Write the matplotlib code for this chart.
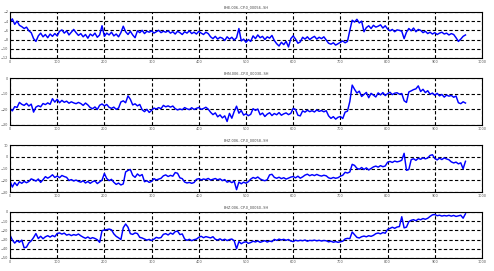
import numpy as np
import matplotlib
matplotlib.use('Agg')
import matplotlib.pyplot as plt

# muestras cada 5 unidades, 0..965
x = np.arange(0, 970, 5)

titles = ["BHE.006..CP.0_00056..SH", "BHN.006..CP.0_00030..SH",
          "BHZ.006..CP.0_00058..SH", "BHZ.006..CP.0_00060..SH"]

p1 = [-4.3, -3.5, -4.7, -4.0, -4.9, -5.2, -5.6, -5.3, -6.1, -6.5,
      -7.8, -8.4, -7.2, -6.6, -7.4, -6.9, -7.6, -6.8, -7.3, -6.7,
      -7.2, -6.2, -5.9, -6.6, -6.1, -7.0, -6.4, -5.8, -6.5, -7.1,
      -6.7, -7.4, -6.9, -7.7, -6.8, -7.2, -6.6, -7.5, -7.0, -5.0,
      -7.3, -6.6, -7.0, -6.4, -7.2, -6.8, -7.4, -6.5, -5.1, -6.3,
      -6.9, -6.2, -7.0, -7.6, -6.1, -6.5, -6.0, -6.7, -6.2, -6.4,
      -6.1, -6.6, -6.3, -6.0, -6.5, -6.2, -6.4, -6.1, -6.6, -6.3,
      -6.8, -6.2, -6.5, -6.9, -6.3, -6.6, -6.1, -6.7, -6.4, -6.8,
      -6.2, -6.6, -6.9, -6.4, -6.7, -7.4, -7.8, -7.3, -7.9, -7.5,
      -7.7, -8.2, -7.4, -7.9, -7.5, -8.1, -7.6, -5.6, -8.3, -7.9,
      -8.6, -8.0, -8.4, -7.2, -7.8, -7.0, -7.6, -7.3, -8.0, -7.4,
      -7.7, -7.1, -8.2, -8.9, -9.4, -8.6, -9.1, -8.4, -9.6, -7.8,
      -7.2, -7.9, -8.8, -8.5, -7.5, -7.9, -7.4, -8.0, -7.6, -7.3,
      -7.9, -7.5, -7.8, -7.4, -8.1, -8.8, -9.0, -8.7, -9.2, -8.9,
      -8.6, -8.3, -8.7, -8.4, -6.0, -3.8, -4.2, -3.6, -4.4, -4.0,
      -6.3, -5.4, -5.0, -5.6, -4.9, -5.3, -5.1, -4.8, -5.5, -5.0,
      -5.7, -6.1, -5.8, -6.3, -5.9, -6.0, -6.2, -7.8, -6.4, -5.6,
      -6.1, -5.5, -6.3, -5.8, -6.0, -6.5, -6.2, -6.7, -6.4, -6.8,
      -6.5, -6.9, -6.6, -6.4, -6.8, -6.6, -7.0, -6.7, -6.9, -7.6,
      -8.4, -7.9, -7.3, -7.0]

p2 = [-19.5, -21.0, -18.3, -18.8, -15.6, -16.8, -17.5, -16.2, -17.9, -16.7,
      -21.8, -18.6, -17.7, -18.4, -16.3, -17.0, -15.9, -16.8, -13.2, -15.4,
      -13.6, -15.8, -14.3, -15.5, -14.8, -16.1, -15.2, -15.9, -16.4, -15.6,
      -16.3, -17.5, -16.0, -17.2, -18.9, -19.6, -18.5, -20.1, -17.4, -16.6,
      -17.8, -16.9, -18.7, -19.4, -18.6, -20.0, -19.2, -15.3, -14.6, -15.8,
      -11.4, -13.6, -17.2, -16.5, -17.8, -16.9, -20.3, -21.5, -20.0, -22.0,
      -20.7, -19.2, -19.8, -18.9, -19.6, -17.5, -18.4, -17.8, -18.6, -17.9,
      -19.6, -20.4, -19.8, -20.3, -18.9, -19.7, -20.2, -19.0, -20.1, -19.4,
      -18.8, -20.0, -19.5, -18.7, -19.9, -21.9, -23.4, -22.3, -24.8, -23.6,
      -25.5, -24.2, -27.8, -22.6, -25.7, -21.4, -18.0, -22.5, -20.8, -23.7,
      -22.9, -24.1, -23.2, -19.6, -20.7, -19.8, -23.5, -22.4, -24.6, -23.1,
      -22.2, -24.0, -22.7, -23.5, -22.1, -23.8, -22.9, -22.3, -23.4, -22.6,
      -19.4, -20.1, -23.8, -24.2, -21.0, -21.8, -20.6, -21.5, -20.9, -21.7,
      -20.4, -21.3, -20.8, -21.6, -20.9, -24.2, -25.8, -24.7, -26.3, -25.1,
      -24.6, -25.9, -21.8, -21.2, -15.0, -4.5, -7.2, -9.6, -8.4, -11.8,
      -10.5, -9.2, -12.6, -9.8, -10.9, -12.1, -9.5, -10.8, -9.3, -11.2,
      -10.0, -9.1, -10.6, -9.7, -9.4, -10.3, -9.9, -14.5, -15.6, -8.9,
      -8.2, -7.4, -6.9, -5.0, -8.6, -7.2, -9.3, -8.1, -10.4, -9.6,
      -11.0, -9.8, -11.4, -10.5, -12.2, -10.9, -11.6, -11.1, -12.3, -11.5,
      -15.8, -16.4, -15.2, -16.0]

p3 = [-20.5, -25.8, -22.0, -24.5, -21.3, -22.6, -20.9, -22.1, -21.0, -18.8,
      -19.6, -20.7, -18.9, -21.8, -19.5, -16.9, -18.2, -17.0, -15.3, -17.6,
      -16.4, -17.8, -15.9, -16.8, -17.5, -20.2, -19.4, -20.6, -19.8, -20.9,
      -21.6, -20.4, -22.3, -21.0, -22.6, -21.2, -20.5, -22.8, -21.4, -19.9,
      -14.2, -18.5, -20.3, -19.2, -21.7, -23.5, -22.4, -24.0, -23.1, -12.9,
      -11.6, -10.8, -15.8, -17.5, -14.6, -16.3, -15.1, -21.2, -20.4, -21.8,
      -20.9, -18.6, -19.7, -19.0, -18.3, -16.2, -15.4, -16.8, -15.8, -16.5,
      -13.4, -14.0, -17.9, -18.6, -21.5, -22.3, -21.8, -22.6, -21.9, -19.2,
      -18.6, -19.7, -18.9, -19.4, -18.4, -19.8, -19.1, -18.5, -19.6, -18.8,
      -20.3, -19.4, -21.6, -20.8, -22.0, -20.7, -28.0, -21.5, -23.0, -21.6,
      -22.5, -21.2, -19.0, -17.6, -18.4, -17.2, -18.9, -19.8, -20.4, -19.5,
      -15.4, -14.9, -17.5, -18.3, -17.4, -18.6, -17.8, -19.0, -18.1, -17.3,
      -16.8, -17.9, -16.5, -18.2, -17.1, -15.6, -14.8, -16.1, -15.2, -16.0,
      -15.0, -15.9, -16.4, -15.7, -16.2, -17.9, -18.5, -17.6, -18.3, -17.8,
      -16.5, -15.7, -13.2, -13.8, -12.9, -6.4, -7.3, -9.8, -10.6, -9.1,
      -10.8, -9.4, -11.2, -9.9, -8.6, -7.9, -8.8, -7.5, -8.4, -7.8,
      -4.6, -3.9, -4.8, -3.6, -4.3, -3.8, -2.9, 3.0, -11.5, -10.8,
      -2.4, -1.6, -3.0, -1.2, -2.1, -0.8, -1.7, -1.0, 1.2, 1.8,
      -1.4, -2.6, -1.1, -2.3, -0.9, -1.8, -2.5, -4.3, -5.2, -4.5,
      -6.0, -5.1, -10.2, -3.8]

p4 = [-25.0, -30.5, -33.8, -31.2, -32.9, -30.6, -39.0, -38.2, -33.6, -31.4,
      -27.8, -23.5, -28.9, -26.4, -29.1, -27.0, -25.8, -27.3, -25.6, -26.9,
      -23.4, -22.8, -24.1, -23.0, -25.2, -24.3, -25.7, -24.6, -25.3, -24.0,
      -25.9, -27.4, -28.6, -27.2, -29.0, -27.9, -28.8, -30.2, -33.0, -20.4,
      -19.6, -19.2, -18.6, -19.4, -23.8, -26.5, -28.1, -30.0, -17.2, -13.1,
      -16.6, -23.6, -24.4, -22.8, -23.5, -27.6, -28.3, -29.4, -30.6, -29.8,
      -31.0, -29.5, -27.6, -28.4, -27.8, -24.3, -23.6, -25.0, -22.9, -24.2,
      -21.4, -20.8, -24.6, -23.9, -29.4, -30.8, -29.7, -31.2, -30.1, -29.5,
      -27.6, -26.4, -28.0, -26.8, -27.5, -28.2, -26.9, -29.7, -30.5, -29.2,
      -30.8, -29.6, -31.1, -30.0, -29.4, -31.3, -40.0, -32.2, -34.5, -33.0,
      -32.4, -34.1, -33.2, -31.8, -32.6, -31.5, -33.0, -32.1, -31.2, -32.7,
      -31.6, -32.3, -29.8, -30.9, -29.5, -30.4, -29.7, -30.8, -29.9, -31.6,
      -32.2, -30.7, -31.5, -30.8, -31.3, -30.5, -31.8, -30.9, -31.2, -30.6,
      -31.4, -30.8, -31.6, -31.0, -31.3, -32.5, -31.8, -32.9, -32.2, -33.0,
      -32.4, -31.8, -29.3, -28.7, -29.0, -21.8, -24.7, -27.6, -28.3, -26.9,
      -26.2, -27.0, -25.8, -26.5, -25.4, -23.6, -22.9, -23.8, -22.4, -23.1,
      -19.0, -17.9, -16.6, -17.8, -16.4, -15.9, -5.2, -17.3, -16.5, -10.6,
      -9.1, -8.4, -9.6, -7.8, -8.5, -7.2, -8.0, -6.9, -4.9, -3.2,
      -2.8, -4.1, -3.6, -4.5, -3.9, -4.4, -3.7, -4.6, -3.8, -4.9,
      -4.2, -3.6, -6.8, -2.0]

series = [p1, p2, p3, p4]
ylims = [(-12, -2), (-30, 0), (-30, 10), (-50, 0)]
yticks = [[-12, -10, -8, -6, -4, -2], [-30, -20, -10, 0],
          [-30, -20, -10, 0, 10], [-50, -40, -30, -20, -10, 0]]
xticks = list(range(0, 1001, 100))

# posiciones de los ejes en fraccion de la figura
boxes = [[0.0202, 0.786, 0.9555, 0.170],
         [0.0202, 0.539, 0.9555, 0.173],
         [0.0202, 0.2915, 0.9555, 0.173],
         [0.0202, 0.048, 0.9555, 0.170]]

fig = plt.figure(figsize=(4.94, 2.71), dpi=100)

for i in range(4):
    ax = fig.add_axes(boxes[i])
    ax.plot(x, series[i], color='#0000ff', lw=1.05)
    ax.set_xlim(0, 1000)
    ax.set_ylim(*ylims[i])
    ax.set_xticks(xticks)
    ax.set_yticks(yticks[i])
    ax.tick_params(labelsize=2.5, length=1.5, width=0.5, direction='in',
                   pad=1.2, colors='black', labelcolor='#555555')
    ax.grid(True, color='black', linestyle=(0, (3, 2)), lw=0.8)
    for s in ax.spines.values():
        s.set_linewidth(0.8)
    ax.set_title(titles[i], fontsize=2.5, pad=2.5, color='#444444')

plt.savefig('out.png', dpi=100)
plt.close()
